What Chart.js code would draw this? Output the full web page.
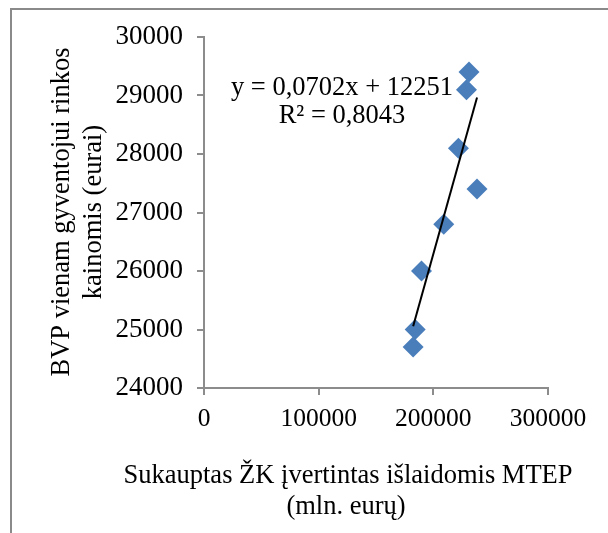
<!DOCTYPE html>
<html>
<head>
<meta charset="utf-8">
<script src="https://cdn.jsdelivr.net/npm/chart.js@4"></script>
<style>
  body { margin: 0; background: #fff; }
  #wrap { position: relative; width: 608px; height: 533px; }
  #frame { position: absolute; left: 10px; top: 8px; right: 0; bottom: 0;
           border-left: 2px solid #8a8a8a; border-top: 2px solid #8a8a8a; }
  canvas { position: absolute; left: 0; top: 0; }
</style>
</head>
<body>
<div id="wrap">
  <div id="frame"></div>
  <canvas id="chart" width="608" height="533"></canvas>
</div>
<script>
// values
const xValues = [231100, 228900, 221900, 238100, 209100, 189700, 184200, 182400];
const yValues = [29400, 29100, 28100, 27400, 26800, 26000, 25000, 24700];
const trendSlope = 0.0702;
const trendIntercept = 12251;
const equationLines = ['y = 0,0702x + 12251', 'R² = 0,8043'];
const xTitleLines = ['Sukauptas ŽK įvertintas išlaidomis MTEP', '(mln. eurų)'];
const yTitleLines = ['BVP vienam gyventojui rinkos', 'kainomis (eurai)'];

const FONT = "'Liberation Serif', 'Times New Roman', serif";
const AXIS_GREY = '#8c8c8c';

const points = xValues.map((x, i) => ({x, y: yValues[i]}));
const xMin = Math.min(...xValues);
const xMax = Math.max(...xValues);
const trendPoints = [xMin, xMax].map((x) => ({x, y: trendSlope * x + trendIntercept}));

const textPlugin = {
    id: 'texts',
    afterDraw(chart) {
        const ctx = chart.ctx;
        ctx.save();
        ctx.fillStyle = '#000';
        ctx.textAlign = 'center';
        ctx.textBaseline = 'middle';
        ctx.font = '26.5px ' + FONT;

        // trendline label
        ctx.fillText(equationLines[0], 342, 88);
        ctx.fillText(equationLines[1], 342, 116);

        // x axis title
        ctx.fillText(xTitleLines[0], 348, 476);
        ctx.fillText(xTitleLines[1], 346, 507);

        // y axis title
        ctx.translate(0, 212);
        ctx.rotate(-Math.PI / 2);
        ctx.fillText(yTitleLines[0], 0, 62);
        ctx.fillText(yTitleLines[1], 0, 94);
        ctx.restore();
    }
};

const ctx = document.getElementById('chart').getContext('2d');
new Chart(ctx, {
    type: 'scatter',
    data: {
        datasets: [
            {
                type: 'line',
                data: trendPoints,
                borderColor: '#000',
                borderWidth: 2,
                pointRadius: 0,
                fill: false,
                order: 0
            },
            {
                data: points,
                pointStyle: 'rectRot',
                pointRadius: 10.5,
                backgroundColor: '#4A7EBB',
                borderColor: '#4A7EBB',
                borderWidth: 0,
                order: 1
            }
        ]
    },
    options: {
        responsive: false,
        animation: false,
        layout: {padding: {top: 37, right: 60, left: 0, bottom: 0}},
        plugins: {
            legend: {display: false},
            tooltip: {enabled: false}
        },
        scales: {
            x: {
                type: 'linear',
                min: 0,
                max: 300000,
                afterFit: (scale) => { scale.height = 145; },
                border: {display: true, color: AXIS_GREY, width: 2},
                grid: {drawOnChartArea: false, drawTicks: true, tickLength: 7, color: AXIS_GREY, lineWidth: 2},
                ticks: {
                    stepSize: 100000,
                    padding: 9,
                    color: '#000',
                    font: {family: FONT, size: 25.5},
                    callback: (v) => String(v)
                }
            },
            y: {
                min: 24000,
                max: 30000,
                afterFit: (scale) => { scale.width = 204; },
                border: {display: true, color: AXIS_GREY, width: 2},
                grid: {drawOnChartArea: false, drawTicks: true, tickLength: 7, color: AXIS_GREY, lineWidth: 2},
                ticks: {
                    stepSize: 1000,
                    padding: 14,
                    color: '#000',
                    font: {family: FONT, size: 27},
                    callback: (v) => String(v)
                }
            }
        }
    },
    plugins: [textPlugin]
});
</script>
</body>
</html>
